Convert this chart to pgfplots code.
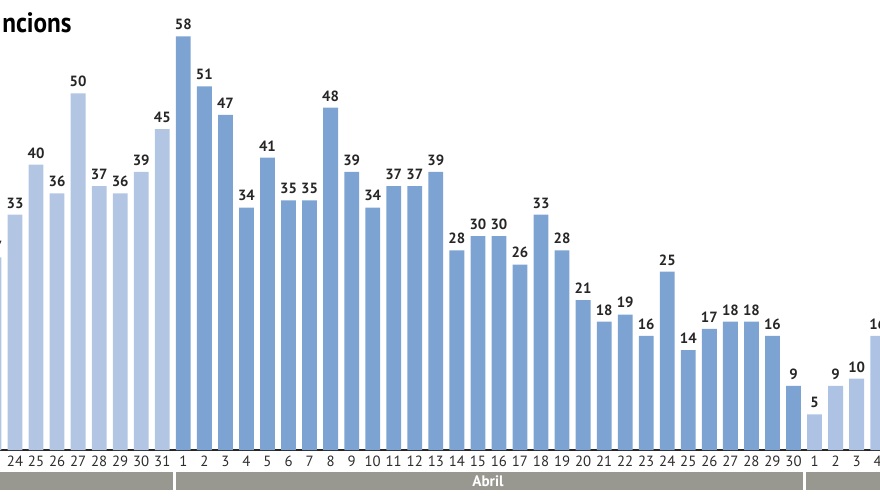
\documentclass[border=0pt]{standalone}
\usepackage{pgfplots}
\pgfplotsset{compat=1.18}
\usepackage{fontspec}
\setmainfont{PT Sans}
\definecolor{marc}{RGB}{178,198,228}
\definecolor{abril}{RGB}{124,163,210}
\definecolor{maig}{RGB}{174,195,227}
\definecolor{band}{RGB}{152,152,145}
\definecolor{tick}{RGB}{45,45,45}
\begin{document}
\begin{tikzpicture}
\path (0pt,0pt) rectangle (440pt,247.5pt);
\begin{scope}[overlay]
\clip (0pt,0pt) rectangle (440pt,247.5pt);
\begin{axis}[
  at={(0pt,22.5pt)}, anchor=south west,
  scale only axis, width=440pt, height=225pt,
  enlargelimits=false,
  xmin=0.287, xmax=42.11, ymin=0, ymax=63.1,
  ybar, bar width=7.4pt, bar shift=0pt,
  axis x line=bottom, axis y line=none,
  x axis line style={draw=black!85, line width=1pt, -},
  major tick length=0pt,
  ytick=\empty,
  xtick={0,...,42},
  xticklabels={23,24,25,26,27,28,29,30,31,1,2,3,4,5,6,7,8,9,10,11,12,13,14,15,16,17,18,19,20,21,22,23,24,25,26,27,28,29,30,1,2,3,4},
  xticklabel style={font=\fontsize{7.4}{8}\selectfont, text=tick, inner sep=0pt, yshift=-3pt},
  /pgf/number format/assume math mode=true,
  nodes near coords,
  every node near coord/.append style={font=\bfseries\fontsize{7.4}{8}\selectfont, text=black!85, inner sep=0pt, yshift=3pt},
  clip=false,
]
\addplot[fill=marc, draw=none] coordinates {(0,27) (1,33) (2,40) (3,36) (4,50) (5,37) (6,36) (7,39) (8,45)};
\addplot[fill=abril, draw=none] coordinates {(9,58) (10,51) (11,47) (12,34) (13,41) (14,35) (15,35) (16,48) (17,39) (18,34) (19,37) (20,37) (21,39) (22,28) (23,30) (24,30) (25,26) (26,33) (27,28) (28,21) (29,18) (30,19) (31,16) (32,25) (33,14) (34,17) (35,18) (36,18) (37,16) (38,9)};
\addplot[fill=maig, draw=none] coordinates {(39,5) (40,9) (41,10) (42,16)};
\end{axis}
\fill[band] (0pt,2.5pt) rectangle (86.5pt,11.5pt);
\fill[band] (88pt,2.5pt) rectangle (401.5pt,11.5pt);
\fill[band] (403pt,2.5pt) rectangle (440pt,11.5pt);
\node[text=white, font=\bfseries\fontsize{7.6}{8}\selectfont, inner sep=0pt] at (244pt,7pt) {Abril};
\end{scope}
\node[anchor=base east, inner sep=0pt, font=\bfseries\fontsize{14}{16}\selectfont] at (36pt,231.5pt) {\scalebox{0.9}[1]{ncions}};
\end{tikzpicture}
\end{document}
